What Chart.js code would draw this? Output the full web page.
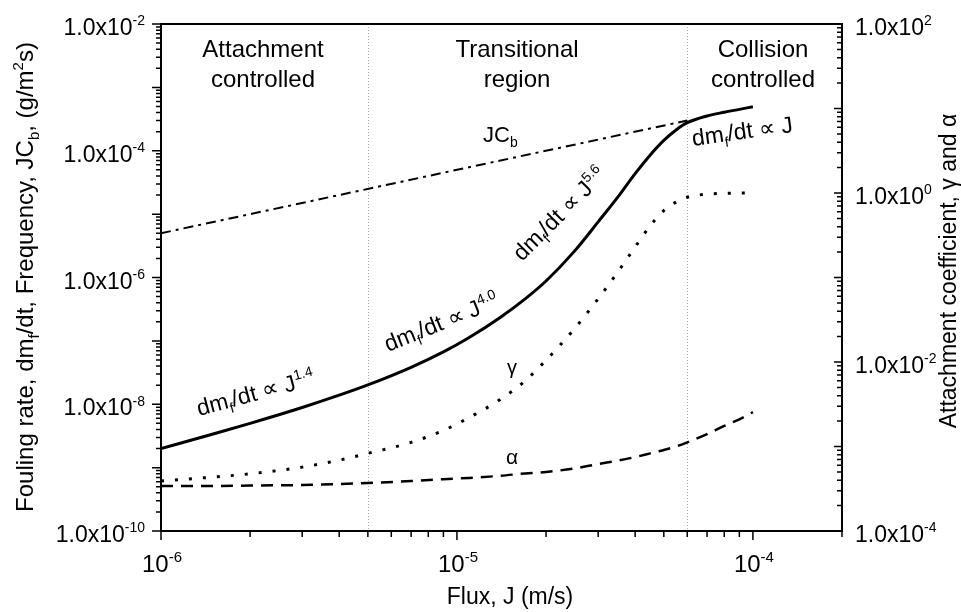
<!DOCTYPE html>
<html>
<head>
<meta charset="utf-8">
<script src="https://cdn.jsdelivr.net/npm/chart.js@4/dist/chart.umd.min.js"></script>
<style>
  html, body { margin: 0; padding: 0; background: #fff; }
  #wrap { width: 961px; height: 612px; }
</style>
</head>
<body>
<div id="wrap"><canvas id="foulingChart" width="961" height="612"></canvas></div>
<script>
// ─── Data ───
const fluxJ = [1e-6, 1.5e-6, 2e-6, 3e-6, 4e-6, 5e-6, 7e-6, 9e-6, 1.1e-5, 1.4e-5, 1.7e-5, 2e-5,
  2.5e-5, 3e-5, 3.5e-5, 4e-5, 4.5e-5, 5e-5, 5.5e-5, 6e-5, 7e-5, 8e-5, 9e-5, 1e-4];
// fouling rate dm_f/dt (g/m2s), left axis
const foulingRate = [2.0e-9, 3.4e-9, 5.0e-9, 8.9e-9, 1.39e-8, 2.02e-8, 3.83e-8, 6.7e-8, 1.13e-7, 2.34e-7, 4.6e-7, 8.8e-7,
  2.63e-6, 7.55e-6, 1.87e-5, 4.35e-5, 8.6e-5, 1.46e-4, 2.13e-4, 2.77e-4, 3.54e-4, 4.05e-4, 4.5e-4, 4.95e-4];
// attachment coefficients, right axis
const gammaCoef = [3.9e-4, 4.35e-4, 4.75e-4, 5.7e-4, 6.9e-4, 8.3e-4, 1.12e-3, 1.55e-3, 2.2e-3, 3.6e-3, 6.0e-3, 1.05e-2,
  2.5e-2, 5.6e-2, 0.117, 0.23, 0.41, 0.62, 0.78, 0.89, 0.97, 0.99, 1.0, 1.0];
const alphaCoef = [3.4e-4, 3.4e-4, 3.45e-4, 3.5e-4, 3.6e-4, 3.7e-4, 3.9e-4, 4.1e-4, 4.25e-4, 4.5e-4, 4.8e-4, 5.0e-4,
  5.5e-4, 6.2e-4, 6.8e-4, 7.5e-4, 8.3e-4, 9.1e-4, 1.0e-3, 1.12e-3, 1.4e-3, 1.75e-3, 2.1e-3, 2.55e-3];
// collision frequency J*Cb
const jcbFlux = [1e-6, 6e-5];
const jcbValue = [5e-6, 3e-4];

// region boundaries
const regionBounds = [5e-6, 6e-5];

// tick labels
const leftTicks = [1e-10, 1e-8, 1e-6, 1e-4, 1e-2];
const leftExp = ['-10', '-8', '-6', '-4', '-2'];
const rightTicks = [1e-4, 1e-2, 1e0, 1e2];
const rightExp = ['-4', '-2', '0', '2'];
const xTicks = [1e-6, 1e-5, 1e-4];
const xExp = ['-6', '-5', '-4'];

const FONT = '"Liberation Sans", Arial, sans-serif';

// ─── Helpers ───
const pts = (xs, ys) => xs.map((x, i) => ({ x, y: ys[i] }));

// text with sub/superscripts: parts = [[text, 'n'|'sup'|'sub'], ...]
function richText(ctx, parts, x, y, opt = {}) {
  const size = opt.size || 22;
  const align = opt.align || 'left';
  const angle = opt.angle || 0;
  const small = Math.round(size * 0.62);
  ctx.save();
  ctx.translate(x, y);
  ctx.rotate(angle * Math.PI / 180);
  ctx.textBaseline = 'alphabetic';
  ctx.textAlign = 'left';
  ctx.fillStyle = '#000';
  const fontFor = k => `${k === 'n' ? size : small}px ${FONT}`;
  const widths = parts.map(([t, k]) => { ctx.font = fontFor(k); return ctx.measureText(t).width; });
  const total = widths.reduce((a, b) => a + b, 0);
  let cx = align === 'center' ? -total / 2 : align === 'right' ? -total : 0;
  parts.forEach(([t, k], i) => {
    ctx.font = fontFor(k);
    const dy = k === 'sup' ? -size * 0.42 : k === 'sub' ? size * 0.24 : 0;
    ctx.fillText(t, cx, dy);
    cx += widths[i];
  });
  ctx.restore();
}

function logMinors(min, max) {
  const out = [];
  for (let e = Math.floor(Math.log10(min)); e <= Math.ceil(Math.log10(max)); e++) {
    for (let m = 1; m <= 9; m++) {
      const v = m * Math.pow(10, e);
      if (v >= min * 0.999 && v <= max * 1.001) out.push({ v, major: m === 1 });
    }
  }
  return out;
}

// ─── Axes, ticks and labels ───
const decorPlugin = {
  id: 'decor',
  beforeDraw(chart) {
    const ctx = chart.ctx;
    ctx.save();
    ctx.fillStyle = '#fff';
    ctx.fillRect(0, 0, chart.width, chart.height);
    ctx.restore();
  },
  beforeDatasetsDraw(chart) {
    const { ctx, chartArea: a, scales } = chart;
    ctx.save();
    ctx.strokeStyle = '#aaa';
    ctx.lineWidth = 1;
    ctx.setLineDash([1, 2]);
    regionBounds.forEach(v => {
      const px = Math.round(scales.x.getPixelForValue(v)) + 0.5;
      ctx.beginPath();
      ctx.moveTo(px, a.top);
      ctx.lineTo(px, a.bottom);
      ctx.stroke();
    });
    ctx.restore();
  },
  afterDraw(chart) {
    const { ctx, chartArea: a, scales } = chart;
    const sx = scales.x, sy = scales.y, sy2 = scales.y2;
    ctx.save();
    ctx.strokeStyle = '#000';
    ctx.lineWidth = 2;
    ctx.strokeRect(a.left, a.top, a.right - a.left, a.bottom - a.top);

    ctx.lineWidth = 1.5;
    ctx.beginPath();
    // left axis, outward
    logMinors(1e-10, 1e-2).forEach(t => {
      const py = sy.getPixelForValue(t.v);
      ctx.moveTo(a.left, py);
      ctx.lineTo(a.left - (t.major ? 9 : 5), py);
    });
    // right axis, inward
    logMinors(1e-4, 1e2).forEach(t => {
      const py = sy2.getPixelForValue(t.v);
      ctx.moveTo(a.right, py);
      ctx.lineTo(a.right - (t.major ? 8 : 5), py);
    });
    // bottom axis, outward
    logMinors(1e-6, 2e-4).forEach(t => {
      const px = sx.getPixelForValue(t.v);
      ctx.moveTo(px, a.bottom);
      ctx.lineTo(px, a.bottom + (t.major ? 9 : 6));
    });
    ctx.stroke();
    ctx.restore();

    // tick labels
    leftTicks.forEach((v, i) => {
      richText(ctx, [['1.0x10', 'n'], [leftExp[i], 'sup']], a.left - 16, sy.getPixelForValue(v) + 11, { size: 23, align: 'right' });
    });
    rightTicks.forEach((v, i) => {
      richText(ctx, [['1.0x10', 'n'], [rightExp[i], 'sup']], a.right + 13, sy2.getPixelForValue(v) + 11, { size: 23 });
    });
    xTicks.forEach((v, i) => {
      richText(ctx, [['10', 'n'], [xExp[i], 'sup']], sx.getPixelForValue(v) + 1, a.bottom + 41, { size: 24, align: 'center' });
    });

    // axis titles
    richText(ctx, [['Flux, J (m/s)', 'n']], 510, 604, { size: 23, align: 'center' });
    richText(ctx, [['Fouling rate, dm', 'n'], ['f', 'sub'], ['/dt, Frequency, JC', 'n'], ['b', 'sub'],
      [', (g/m', 'n'], ['2', 'sup'], ['s)', 'n']], 33, 277, { size: 24, align: 'center', angle: -90 });
    richText(ctx, [['Attachment coefficient, \u03b3 and \u03b1', 'n']], 956, 271, { size: 23, align: 'center', angle: -90 });

    // region headings
    richText(ctx, [['Attachment', 'n']], 263, 57, { size: 24, align: 'center' });
    richText(ctx, [['controlled', 'n']], 263, 87, { size: 24, align: 'center' });
    richText(ctx, [['Transitional', 'n']], 517, 57, { size: 24, align: 'center' });
    richText(ctx, [['region', 'n']], 517, 87, { size: 24, align: 'center' });
    richText(ctx, [['Collision', 'n']], 763, 57, { size: 24, align: 'center' });
    richText(ctx, [['controlled', 'n']], 763, 87, { size: 24, align: 'center' });

    // curve annotations
    const rate = exp => {
      const p = [['dm', 'n'], ['f', 'sub'], ['/dt \u221d J', 'n']];
      if (exp) p.push([exp, 'sup']);
      return p;
    };
    richText(ctx, rate('1.4'), 199, 416, { size: 23, angle: -15 });
    richText(ctx, rate('4.0'), 388, 352, { size: 23, angle: -22 });
    richText(ctx, rate('5.6'), 522, 262, { size: 23, angle: -45 });
    richText(ctx, rate(''), 693, 146, { size: 23, angle: -8 });
    richText(ctx, [['JC', 'n'], ['b', 'sub']], 483, 142, { size: 22 });
    richText(ctx, [['\u03b3', 'n']], 512, 374, { size: 20, align: 'center' });
    richText(ctx, [['\u03b1', 'n']], 512, 464, { size: 21, align: 'center' });
  }
};

// ─── Chart ───
const ctx = document.getElementById('foulingChart').getContext('2d');
new Chart(ctx, {
  type: 'line',
  data: {
    datasets: [
      {
        label: 'Fouling rate',
        data: pts(fluxJ, foulingRate),
        yAxisID: 'y',
        borderColor: '#000',
        borderWidth: 3,
        pointRadius: 0,
        cubicInterpolationMode: 'monotone'
      },
      {
        label: 'JCb',
        data: pts(jcbFlux, jcbValue),
        yAxisID: 'y',
        borderColor: '#000',
        borderWidth: 2,
        borderDash: [10, 5, 3, 5],
        pointRadius: 0
      },
      {
        label: 'gamma',
        data: pts(fluxJ, gammaCoef),
        yAxisID: 'y2',
        borderColor: '#000',
        borderWidth: 3,
        borderDash: [3, 11],
        pointRadius: 0,
        cubicInterpolationMode: 'monotone'
      },
      {
        label: 'alpha',
        data: pts(fluxJ, alphaCoef),
        yAxisID: 'y2',
        borderColor: '#000',
        borderWidth: 2.5,
        borderDash: [12, 8],
        pointRadius: 0,
        cubicInterpolationMode: 'monotone'
      }
    ]
  },
  options: {
    responsive: false,
    animation: false,
    events: [],
    layout: { padding: { left: 161, right: 119, top: 24, bottom: 81 } },
    plugins: { legend: { display: false }, tooltip: { enabled: false } },
    scales: {
      x: { type: 'logarithmic', min: 1e-6, max: 2e-4, display: false },
      y: { type: 'logarithmic', min: 1e-10, max: 1e-2, display: false },
      y2: { type: 'logarithmic', position: 'right', min: 1e-4, max: 1e2, display: false }
    }
  },
  plugins: [decorPlugin]
});
</script>
</body>
</html>
